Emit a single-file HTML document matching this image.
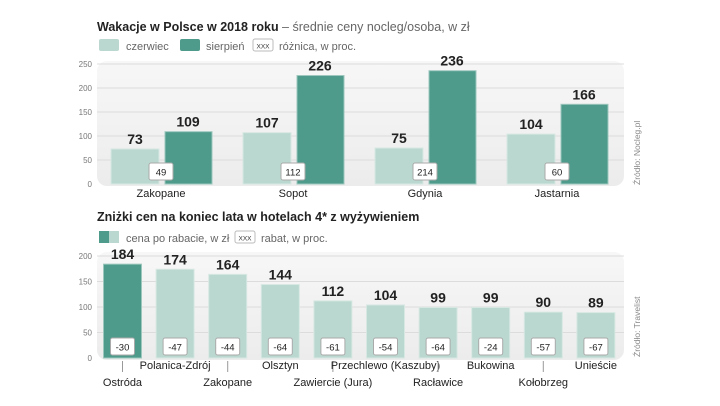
<!DOCTYPE html>
<html><head><meta charset="utf-8"><style>
body{margin:0;background:#fff;}
svg{display:block;font-family:"Liberation Sans",sans-serif;}
.b{font-weight:bold;}
</style></head><body>
<svg id="c" width="720" height="406" viewBox="0 0 720 406" xmlns="http://www.w3.org/2000/svg">
<defs>
<linearGradient id="pg" x1="0" y1="0" x2="0" y2="1"><stop offset="0" stop-color="#f7f7f7"/><stop offset="1" stop-color="#ececec"/></linearGradient>
</defs>
<text x="97" y="31" font-size="12.5" fill="#222"><tspan class="b">Wakacje w Polsce w 2018 roku</tspan><tspan fill="#666"> – średnie ceny nocleg/osoba, w zł</tspan></text>
<g>
<rect x="99" y="39" width="20" height="12" rx="2" fill="#bad8cf"/><text x="126" y="50" font-size="11" fill="#666">czerwiec</text>
<rect x="180" y="39" width="20" height="12" rx="2" fill="#4e9a8b"/><text x="206" y="50" font-size="11" fill="#666">sierpień</text>
<rect x="253" y="39" width="20" height="12" rx="2" fill="#fff" stroke="#bbb"/><text x="263" y="48.5" font-size="6.5" fill="#333" text-anchor="middle">XXX</text><text x="279" y="50" font-size="11" fill="#666">różnica, w proc.</text>
</g>
<rect x="97" y="61" width="527" height="125" rx="10" fill="url(#pg)"/>
<g id="top"></g>
<text x="97" y="221" font-size="12.5" fill="#222" class="b">Zniżki cen na koniec lata w hotelach 4* z wyżywieniem</text>
<g>
<rect x="99" y="231" width="10" height="12" fill="#4e9a8b"/><rect x="109" y="231" width="10" height="12" fill="#bad8cf"/><text x="126" y="242" font-size="11" fill="#666">cena po rabacie, w zł</text>
<rect x="235" y="231" width="20" height="12" rx="2" fill="#fff" stroke="#bbb"/><text x="245" y="240.5" font-size="6.5" fill="#333" text-anchor="middle">XXX</text><text x="261" y="242" font-size="11" fill="#666">rabat, w proc.</text>
</g>
<rect x="97" y="252" width="527" height="108" rx="10" fill="url(#pg)"/>
<g id="bot"></g>
<text transform="translate(640,185) rotate(-90)" font-size="8.5" fill="#888">Źródło: Nocleg.pl</text>
<text transform="translate(640,357) rotate(-90)" font-size="8.5" fill="#888">Źródło: Travelist</text>
</svg>
<script>
const topCats=["Zakopane","Sopot","Gdynia","Jastarnia"];
const june=[73,107,75,104];
const august=[109,226,236,166];
const diff=[49,112,214,60];
const topTicks=[0,50,100,150,200,250];
const botCats=["Ostróda","Polanica-Zdrój","Zakopane","Olsztyn","Zawiercie (Jura)","Przechlewo (Kaszuby)","Racławice","Bukowina","Kołobrzeg","Unieście"];
const price=[184,174,164,144,112,104,99,99,90,89];
const rabat=[-30,-47,-44,-64,-61,-54,-64,-24,-57,-67];
const botTicks=[0,50,100,150,200];
const NS="http://www.w3.org/2000/svg";
function mk(p,t,a,txt){const e=document.createElementNS(NS,t);for(const k in a)e.setAttribute(k,a[k]);if(txt!==undefined)e.textContent=txt;p.appendChild(e);return e;}
const yT=v=>184-v*0.48, yB=v=>358-v*0.51;
const T=document.getElementById('top'),B=document.getElementById('bot');
topTicks.forEach(v=>{
  if(v>0){const l=mk(T,'line',{x1:97,x2:624,y1:yT(v),y2:yT(v),stroke:'#dcdcdc'});}
  const t=mk(T,'text',{x:92,y:yT(v)+3,'font-size':8,fill:'#777','text-anchor':'end'},v);
  
});
topCats.forEach((c,i)=>{
  const cx=161+i*132;
  const r1=mk(T,'rect',{x:cx-50,y:yT(june[i]),width:48,height:yT(0)-yT(june[i]),fill:'#bad8cf',stroke:'#d7e8e3'});
  
  const r2=mk(T,'rect',{x:cx+4,y:yT(august[i]),width:47,height:yT(0)-yT(august[i]),fill:'#4e9a8b',stroke:'#9cc7bd'});
  
  const l1=mk(T,'text',{x:cx-26,y:yT(june[i])-5,'font-size':14,'font-weight':'bold',fill:'#222','text-anchor':'middle'},june[i]);
  
  const l2=mk(T,'text',{x:cx+27,y:yT(august[i])-5,'font-size':14,'font-weight':'bold',fill:'#222','text-anchor':'middle'},august[i]);
  
  const bx=mk(T,'rect',{x:cx-12,y:163,width:24,height:17,rx:2,fill:'#fff',stroke:'#aaa'});
  
  const bt=mk(T,'text',{x:cx,y:175.5,'font-size':9.5,fill:'#222','text-anchor':'middle'},diff[i]);
  
  const ct=mk(T,'text',{x:cx,y:197,'font-size':11,fill:'#222','text-anchor':'middle'},c);
  
});
botTicks.forEach(v=>{
  if(v>0){const l=mk(B,'line',{x1:97,x2:624,y1:yB(v),y2:yB(v),stroke:'#dcdcdc'});}
  const t=mk(B,'text',{x:92,y:yB(v)+3,'font-size':8,fill:'#777','text-anchor':'end'},v);
  
});
botCats.forEach((c,i)=>{
  const cx=122.5+i*52.6;
  const r=mk(B,'rect',{x:cx-19,y:yB(price[i]),width:38,height:yB(0)-yB(price[i]),fill:i==0?'#4e9a8b':'#bad8cf',stroke:i==0?'#9cc7bd':'#d7e8e3'});
  
  const l=mk(B,'text',{x:cx,y:yB(price[i])-5,'font-size':14,'font-weight':'bold',fill:'#222','text-anchor':'middle'},price[i]);
  
  const bx=mk(B,'rect',{x:cx-12,y:338,width:24,height:17,rx:2,fill:'#fff',stroke:'#aaa'});
  
  const bt=mk(B,'text',{x:cx,y:350.5,'font-size':9.5,fill:'#222','text-anchor':'middle'},rabat[i]);
  
  const low=(i%2==0);
  if(low){const tk=mk(B,'line',{x1:cx,x2:cx,y1:361,y2:372,stroke:'#999'});}
  const ct=mk(B,'text',{x:cx,y:low?386:369,'font-size':11,fill:'#222','text-anchor':'middle'},c);
  
});
</script>
</body></html>
